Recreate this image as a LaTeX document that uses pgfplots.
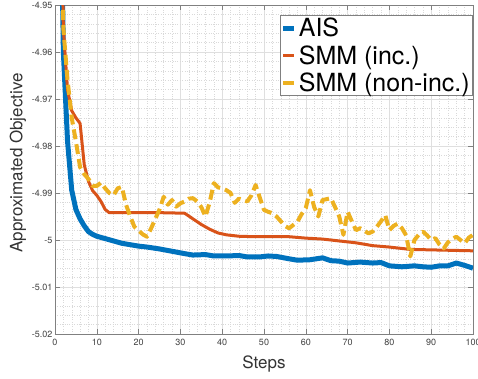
\documentclass[border=0pt]{standalone}
\usepackage{pgfplots}
\pgfplotsset{compat=1.18}
\usepackage{fontspec}
\setmainfont{TeX Gyre Heros}
\definecolor{mblue}{rgb}{0,0.447,0.741}
\definecolor{mred}{rgb}{0.85,0.325,0.098}
\definecolor{myellow}{rgb}{0.929,0.694,0.125}
\definecolor{axgray}{gray}{0.5}
\begin{document}
\begin{tikzpicture}
\useasboundingbox (-55pt,-44pt) rectangle (423pt,334pt);
\clip (-55pt,-44pt) rectangle (423pt,334pt);
\begin{axis}[
  at={(0pt,0pt)}, anchor=south west,
  scale only axis, width=418pt, height=329pt,
  xmin=0, xmax=100, ymin=-5.02, ymax=-4.95,
  xtick={0,10,...,100},
  ytick={-5.02,-5.01,-5,-4.99,-4.98,-4.97,-4.96,-4.95},
  yticklabels={-5.02,-5.01,-5,-4.99,-4.98,-4.97,-4.96,-4.95},
  minor x tick num=4, minor y tick num=4,
  grid=both,
  major grid style={gray!25, line width=0.6pt},
  minor grid style={gray!30, dotted, line width=0.4pt},
  tick align=inside, tick pos=both,
  major tick length=5pt, minor tick length=0pt,
  axis line style={axgray, line width=0.8pt},
  every tick/.style={axgray, line width=0.6pt},
  /pgf/number format/assume math mode=true,
  ticklabel style={font=\fontsize{9}{10}\selectfont, text=black!75},
  xticklabel style={yshift=-2pt},
  yticklabel style={xshift=1pt},
  scaled y ticks=false,
  xlabel={Steps}, ylabel={Approximated Objective},
  xlabel style={font=\fontsize{17}{19}\selectfont, text=black!80, at={(rel axis cs:0.5,0)}, anchor=center, yshift=-30pt},
  ylabel style={font=\fontsize{17}{19}\selectfont, text=black!80, at={(rel axis cs:0,0.52)}, anchor=center, yshift=37pt},
  legend style={at={(rel axis cs:1,0.97)}, anchor=north east, draw=axgray, line width=0.6pt, fill=white, font=\fontsize{25}{27}\selectfont, inner sep=1pt, row sep=3pt, nodes={inner sep=2pt}, cells={anchor=west}},
  legend cell align=left,
  legend image code/.code={\draw[#1, solid] (0pt,0pt) -- (11pt,0pt);},
]
\addplot[mblue, line width=5pt, line join=round] coordinates {
(1,-4.90) (2,-4.960) (3,-4.979) (4,-4.9894) (5,-4.9935) (6,-4.9955) (7,-4.997) (8,-4.9982) (9,-4.9988) (10,-4.9992)
(12,-4.9997) (14,-5.0002) (16,-5.0007) (18,-5.0010) (20,-5.0013) (22,-5.0015) (25,-5.0019) (28,-5.0024) (31,-5.0029)
(33,-5.0032) (36,-5.0031) (38,-5.0034) (41,-5.0034) (44,-5.0033) (46,-5.0036) (49,-5.0036) (51,-5.0034) (53,-5.0035)
(56,-5.0040) (58,-5.0043) (61,-5.0042) (64,-5.0038) (66,-5.0044) (68,-5.0045) (70,-5.0049) (73,-5.0047) (76,-5.0049)
(78,-5.0048) (80,-5.0055) (83,-5.0057) (86,-5.0055) (88,-5.0057) (90,-5.0058) (92,-5.0055) (94,-5.0055) (96,-5.0049)
(98,-5.0054) (100,-5.0060)
};
\addlegendentry{AIS}
\addplot[mred, line width=3pt, line join=round] coordinates {
(1,-4.90) (2,-4.955) (3,-4.968) (4,-4.9725) (5,-4.9740) (6,-4.9752) (7,-4.984) (8,-4.9875) (9,-4.9895) (10,-4.9905)
(11,-4.9918) (12,-4.9935) (13,-4.9942) (20,-4.9942) (26,-4.9942) (31,-4.9943) (33,-4.9955) (35,-4.9967) (37,-4.9977)
(39,-4.9985) (41,-4.9989) (44,-4.9992) (48,-4.9993) (52,-4.9993) (56,-4.9993) (60,-4.9996) (64,-4.9998) (68,-5.0002)
(72,-5.0006) (76,-5.0012) (80,-5.0015) (85,-5.0020) (90,-5.0021) (95,-5.0022) (100,-5.0023)
};
\addlegendentry{SMM (inc.)}
\addplot[myellow, line width=4pt, dash pattern=on 10pt off 5pt, line join=round] coordinates {
(1,-4.90) (2,-4.955) (3,-4.966) (4,-4.974) (5,-4.979) (6,-4.9845) (7,-4.986) (8,-4.987) (9,-4.9885) (10,-4.9885)
(11,-4.9878) (12,-4.989) (13,-4.990) (14,-4.9905) (15,-4.989) (16,-4.9887) (17,-4.9925) (18,-4.995) (19,-4.9972)
(20,-4.998) (21,-4.9988) (22,-4.9993) (23,-4.9975) (24,-4.9955) (25,-4.9935) (26,-4.9908) (27,-4.9925) (28,-4.9915)
(29,-4.9929) (30,-4.9922) (31,-4.9918) (32,-4.9912) (33,-4.9911) (34,-4.9918) (35,-4.993) (36,-4.995) (37,-4.992)
(38,-4.9879) (39,-4.9888) (40,-4.989) (41,-4.9894) (42,-4.990) (43,-4.9921) (44,-4.9912) (45,-4.9915) (46,-4.9918)
(47,-4.9905) (48,-4.9883) (49,-4.991) (50,-4.9936) (51,-4.994) (52,-4.9943) (53,-4.995) (54,-4.996) (55,-4.997)
(56,-4.9975) (57,-4.9968) (58,-4.9961) (59,-4.9945) (60,-4.9932) (61,-4.9894) (62,-4.993) (63,-4.995) (64,-4.9915)
(65,-4.9913) (66,-4.9911) (67,-4.993) (68,-4.995) (69,-4.9989) (70,-4.994) (71,-4.996) (72,-4.9979) (73,-4.9975)
(74,-4.998) (75,-4.9986) (76,-4.9982) (77,-4.9972) (78,-4.996) (79,-4.9947) (80,-4.9979) (81,-4.997) (82,-4.9965)
(83,-4.9975) (84,-4.999) (85,-5.0035) (86,-5.000) (87,-4.9989) (88,-4.9982) (89,-4.999) (90,-5.000) (91,-4.9996)
(92,-5.001) (93,-5.0018) (94,-5.0005) (95,-4.9998) (96,-4.9993) (97,-5.0) (98,-5.0007) (99,-4.9995) (100,-4.9989)
};
\addlegendentry{SMM (non-inc.)}
\end{axis}
\end{tikzpicture}
\end{document}
